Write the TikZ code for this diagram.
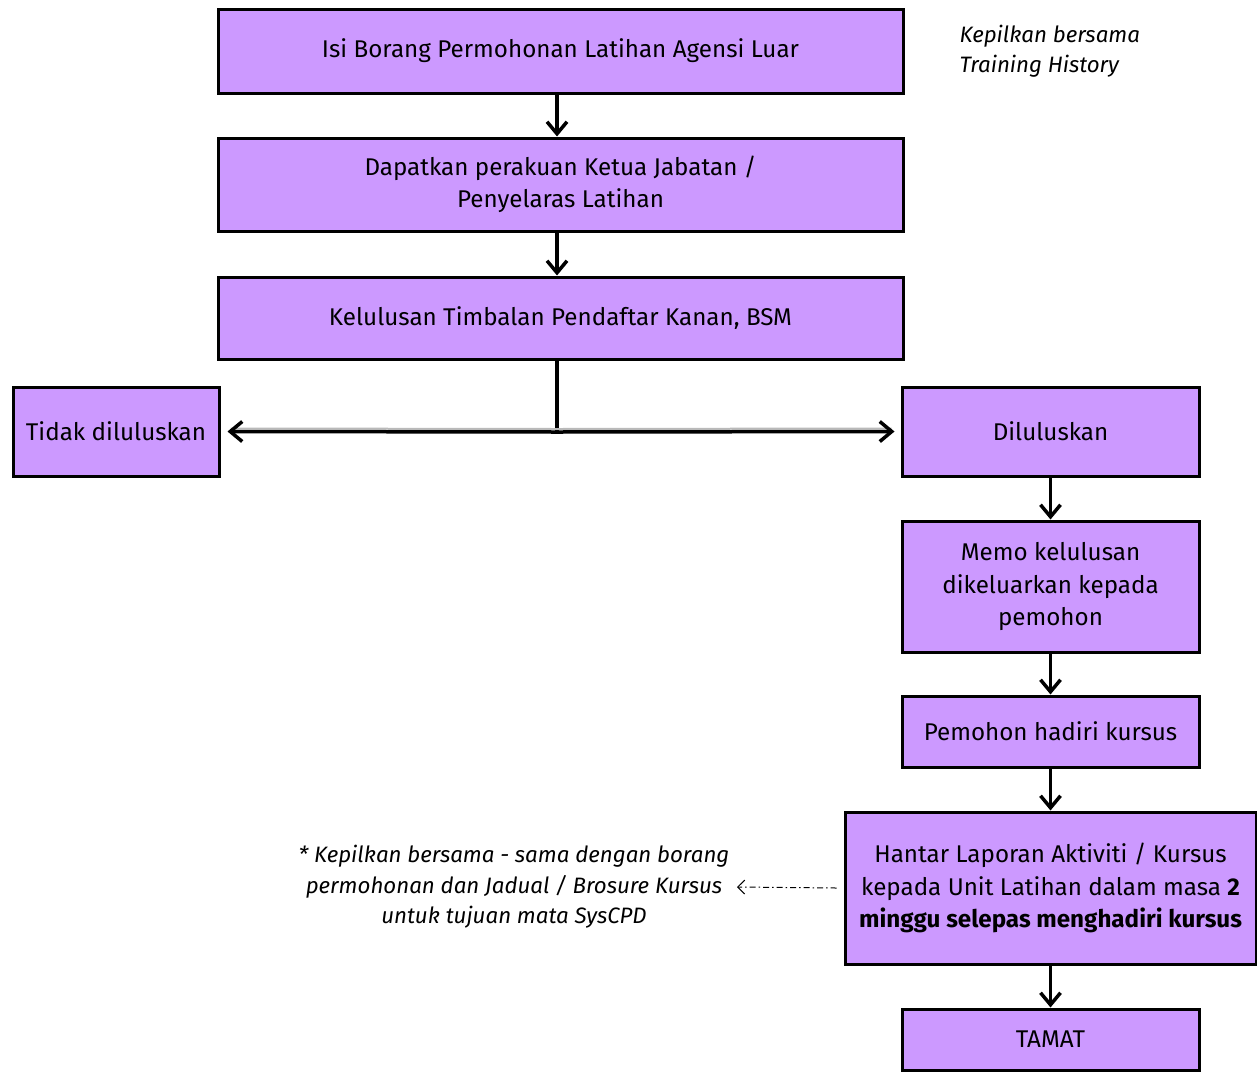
\documentclass[tikz,border=0pt]{standalone}
\usepackage{fontspec}
\setmainfont{Fira Sans}
\usetikzlibrary{arrows.meta}
\definecolor{boxfill}{HTML}{CC99FF}
\begin{document}
\begin{tikzpicture}[x=1pt,y=-1pt,
  box/.style={draw=black,line width=3pt,fill=boxfill,inner sep=0pt,align=center,
    font=\fontsize{24.2}{32.5}\selectfont},
  flow/.style={line width=3.5pt,-{Straight Barb[length=12pt,width=20pt,line width=3.5pt]}},
  note/.style={font=\fontsize{22.3}{30.5}\selectfont\itshape}]
\useasboundingbox (0,0) rectangle (1257,1074);
\node[box,minimum width=685pt,minimum height=84pt] (b1) at (560.5,51) {Isi Borang Permohonan Latihan Agensi Luar};
\node[box,minimum width=685pt,minimum height=93pt] (b2) at (560.5,184.5) {Dapatkan perakuan Ketua Jabatan /\\Penyelaras Latihan};
\node[box,minimum width=685pt,minimum height=82pt] (b3) at (560.5,318) {Kelulusan Timbalan Pendaftar Kanan, BSM};
\node[box,minimum width=206pt,minimum height=89pt] (tidak) at (116,431.5) {Tidak diluluskan};
\node[box,minimum width=297pt,minimum height=89pt] (lulus) at (1050.5,431.5) {Diluluskan};
\node[box,minimum width=297pt,minimum height=131pt] (memo) at (1050.5,586.5) {Memo kelulusan\\dikeluarkan kepada\\pemohon};
\node[box,minimum width=297pt,minimum height=71pt] (hadir) at (1050.5,731.5) {Pemohon hadiri kursus};
\node[box,minimum width=411pt,minimum height=152pt] (hantar) at (1050.5,888) {Hantar Laporan Aktiviti / Kursus\\kepada Unit Latihan dalam masa \textbf{2}\\\textbf{minggu selepas menghadiri kursus}};
\node[box,minimum width=297pt,minimum height=61pt] (tamat) at (1050.5,1039.5) {TAMAT};
\node[note,align=left,anchor=west] (n1) at (956,51) {Kepilkan bersama\\Training History};
\node[note,align=center] (n2) at (514,887) {* Kepilkan bersama - sama dengan borang\\permohonan dan Jadual / Brosure Kursus\\untuk tujuan mata SysCPD};
\coordinate (split) at (557,432);
\coordinate (dtip) at (737,887);
\draw[flow] (b1.south -| split) -- (b2.north -| split);
\draw[flow] (b2.south -| split) -- (b3.north -| split);
\draw[line width=3.5pt] (b3.south -| split) -- (split);
\draw[gray!55,line width=2pt] ([yshift=3pt]split) -- ([xshift=10pt,yshift=3pt]tidak.east);
\draw[gray!55,line width=2pt] ([yshift=3pt]split) -- ([xshift=-9pt,yshift=3pt]lulus.west);
\draw[flow] (split) -- ([xshift=7pt]tidak.east);
\draw[flow] (split) -- ([xshift=-6pt]lulus.west);
\draw[flow] (lulus) -- (memo);
\draw[flow] (memo) -- (hadir);
\draw[flow] (hadir) -- (hantar);
\draw[flow] (hantar) -- (tamat);
\draw[line width=1pt,dash pattern=on 6pt off 3pt on 1.5pt off 3pt,-{Straight Barb[length=7pt,width=14pt,line width=1pt]}] ([xshift=-7pt]hantar.west) -- (dtip);
\end{tikzpicture}
\end{document}
